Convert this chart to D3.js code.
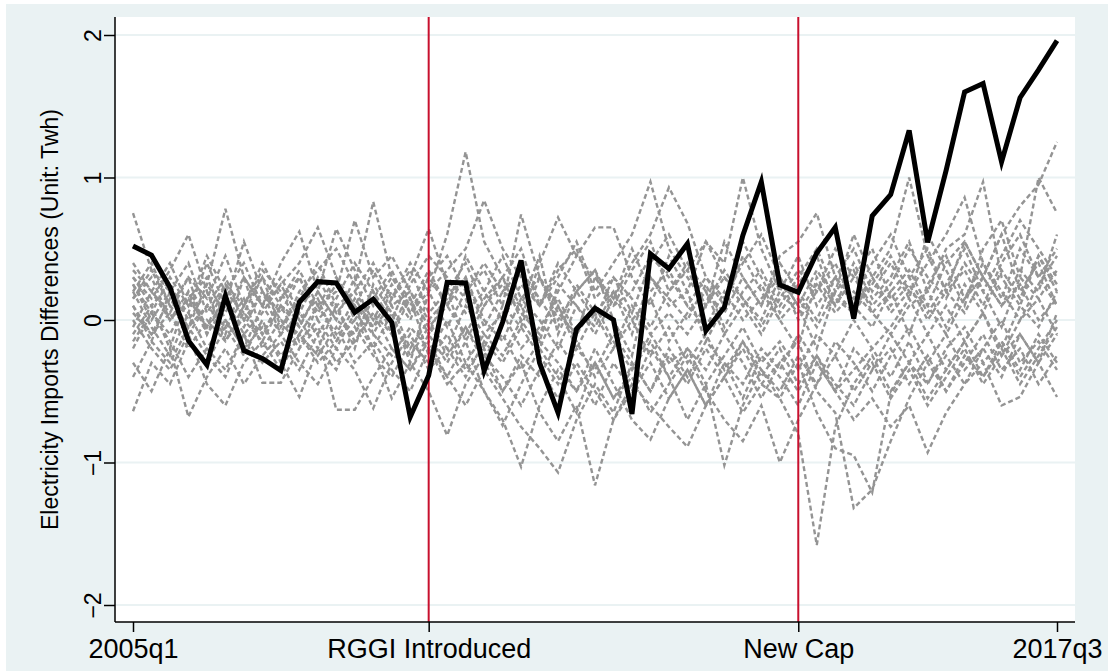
<!DOCTYPE html>
<html>
<head>
<meta charset="utf-8">
<script src="https://cdn.jsdelivr.net/npm/d3@7"></script>
<style>
  body { margin: 0; background: #fff; }
  text { font-family: "Liberation Sans", Arial, sans-serif; fill: #000; }
</style>
</head>
<body>
<div id="chart"></div>
<script>
// quarters 2005q1 .. 2017q3 (51 periods), index 0..50
var quarters = d3.range(51);
var eventIdx = [16, 36];            // 2009q1, 2014q1
var xTickIdx = [0, 16, 36, 50];
var xTickLabels = ["2005q1", "RGGI Introduced", "New Cap", "2017q3"];
var yTicks = [-2, -1, 0, 1, 2];

// treated unit
var treated = [
  0.52, 0.455, 0.23, -0.145, -0.315, 0.17, -0.215, -0.27, -0.355, 0.124,
  0.269, 0.26, 0.054, 0.147, -0.016, -0.68, -0.39, 0.265, 0.26, -0.357,
  -0.016, 0.418, -0.30, -0.65, -0.063, 0.082, 0.002, -0.66, 0.465, 0.36,
  0.535, -0.075, 0.09, 0.594, 0.97, 0.246, 0.195, 0.47, 0.65, 0.01,
  0.73, 0.88, 1.33, 0.545, 1.05, 1.6, 1.66, 1.11, 1.56, 1.755,
  1.96
];

// placebo units
var placebo01 = [0.75,0.35,0.1,0.3,-0.1, 0.2,0.05,0.3,-0.05,0.15, 0.4,0.1,-0.2,0.25,0.05, -0.3,0.2,0.6,1.18,0.55, 0.3,0.1,0.45,-0.1,0.2, 0.35,0.0,-0.25,0.3,0.1, 0.2,-0.15,0.1,0.45,0.2, 0.0,-0.2,0.3,0.1,0.4, 0.15,0.3,0.55,0.2,0.5, 0.6,0.97,0.3,0.1,0.45, 0.2];
var placebo02 = [0.3,0.15,0.35,0.6,0.2, -0.1,0.3,0.1,0.4,0.62, 0.2,0.0,0.3,-0.1,0.15, 0.35,0.05,0.2,-0.15,0.1, 0.3,0.5,0.1,0.3,0.55, 0.2,0.4,0.6,0.97,0.5, 0.3,0.1,0.35,0.15,0.0, 0.3,0.1,-0.2,0.2,0.35, 0.05,0.2,-0.1,0.25,0.45, 0.15,0.3,0.6,0.2,0.4, 0.1];
var placebo03 = [0.2,0.4,0.1,-0.05,0.25, 0.78,0.3,0.1,-0.1,0.2, 0.35,0.5,0.25,0.83,0.3, 0.1,0.35,0.1,0.45,0.2, 0.0,0.25,0.1,0.35,0.5, 0.15,0.3,0.05,0.4,0.6, 0.35,0.55,0.4,1.0,0.5, 0.2,0.45,0.1,0.3,0.15, 0.4,0.6,0.3,0.5,0.2, 0.35,0.1,0.4,0.6,0.3, 0.5];
var placebo04 = [0.1,-0.15,0.2,0.05,0.4, 0.1,0.55,0.2,0.0,-0.2, 0.1,0.3,0.0,0.2,-0.1, 0.25,0.45,0.3,0.15,-0.2, 0.1,-0.05,0.3,0.1,-0.2, 0.05,0.2,-0.1,0.3,0.15, 0.0,0.25,-0.05,0.2,0.35, 0.1,0.3,0.5,0.2,0.6, 0.3,0.5,1.0,0.45,0.2, 0.55,0.3,0.1,0.35,0.2, 0.6];
var placebo05 = [0.25,0.05,-0.1,0.15,0.3, 0.0,-0.2,0.1,0.25,0.4, 0.65,0.3,0.1,-0.05,0.2, 0.0,0.3,0.45,0.2,0.35, 0.1,0.74,0.3,0.05,-0.1, 0.3,0.1,0.35,0.55,0.2, 0.4,0.2,0.05,0.3,0.1, 0.4,0.2,0.0,0.3,0.5, 0.2,0.4,0.15,0.6,0.35, 0.1,0.5,0.7,0.3,1.0, 0.75];
var placebo06 = [0.35,0.2,0.05,0.3,0.15, 0.45,0.1,0.35,0.2,-0.05, 0.2,0.64,0.35,0.1,0.3, 0.15,-0.1,0.2,0.4,0.1, 0.25,0.05,-0.1,0.2,0.45, 0.65,0.65,0.3,0.1,0.45, 0.2,0.55,0.3,0.1,-0.1, 0.15,0.35,0.2,0.5,0.3, 0.1,0.25,0.5,0.3,0.15, 0.4,0.2,0.45,0.7,0.5, 0.3];
var placebo07 = [-0.05,0.2,0.4,0.1,0.25, 0.05,0.3,-0.1,0.15,0.35, 0.1,0.2,0.7,0.3,0.45, 0.2,0.0,0.15,0.3,-0.05, 0.2,0.1,-0.15,0.25,0.1, -0.1,0.15,0.4,0.6,0.93, 0.68,0.3,0.1,0.55,0.3, 0.05,0.25,0.45,0.1,0.3, 0.5,0.15,0.3,0.05,0.25, 0.5,0.2,-0.05,0.3,0.15, 0.35];
var placebo08 = [0.15,0.3,0.0,0.2,-0.1, 0.1,-0.05,0.2,0.05,0.3, 0.0,0.15,0.4,0.2,0.0, 0.3,0.64,0.25,0.05,0.2, 0.45,0.15,0.3,0.0,0.2, 0.35,0.1,0.2,0.45,0.3, 0.1,-0.05,0.2,0.0,0.15, 0.3,0.0,0.2,0.4,0.1, 0.3,0.05,0.2,0.4,0.6, 0.86,0.4,0.15,0.5,0.3, 0.1];
var placebo09 = [0.05,-0.1,0.15,-0.05,0.1, 0.3,0.0,-0.15,0.1,-0.05, 0.2,0.0,-0.1,0.15,0.35, 0.05,0.2,0.35,0.5,0.84, 0.5,0.3,0.1,0.4,0.2, 0.0,0.3,0.15,-0.05,0.2, 0.35,0.1,0.55,0.3,0.1, 0.45,0.55,0.75,0.3,0.1, -0.05,0.2,0.35,0.1,-0.1, 0.15,0.4,0.2,0.0,0.25, 0.45];
var placebo10 = [0.3,0.1,0.25,0.0,0.2, -0.15,0.1,0.3,0.1,0.0, -0.2,0.1,0.2,0.0,0.25, 0.05,0.3,0.1,-0.1,0.15, 0.3,0.0,0.4,0.72,0.45, 0.3,0.15,0.5,0.2,0.35, 0.1,0.3,0.15,0.4,0.6, 0.3,0.1,0.35,0.15,0.05, 0.25,0.45,0.2,0.1,0.4, 0.55,0.3,0.6,0.8,0.95, 1.25];
var placebo11 = [-0.64,-0.3,-0.45,-0.15,-0.3, -0.05,-0.25,0.0,-0.3,-0.54, -0.2,-0.35,-0.05,-0.25,-0.4, -0.15,-0.3,-0.1,-0.35,-0.2, -0.5,-0.25,-0.4,-0.15,-0.35, -0.6,-0.3,-0.5,-0.2,-0.4, -0.7,-0.45,-1.02,-0.6,-0.35, -0.5,-0.25,-0.45,-0.15,-0.3, -0.5,-0.25,-0.05,-0.3,-0.1, -0.35,-0.2,0.0,-0.3,-0.15, -0.35];
var placebo12 = [-0.3,-0.5,-0.2,-0.68,-0.4, -0.2,-0.45,-0.25,-0.1,-0.3, -0.45,-0.2,-0.35,-0.62,-0.3, -0.1,-0.35,-0.2,-0.4,-0.15, -0.3,-0.05,-0.25,-0.45,-0.2, -0.35,-0.1,-0.3,-0.5,-0.2, -0.4,-0.15,-0.3,-0.55,-0.25, -0.4,-0.6,-0.3,-0.5,-0.2, -0.35,-0.1,-0.3,-0.45,-0.2, -0.05,-0.3,-0.15,-0.4,-0.2, 0.0];
var placebo13 = [0.0,-0.2,-0.35,-0.1,-0.45, -0.6,-0.3,-0.15,-0.35,-0.1, -0.25,-0.05,-0.3,-0.15,-0.35, -0.5,-0.2,-0.4,-0.15,-0.5, -0.74,-0.45,-0.2,-0.4,-0.65, -0.3,-0.55,-0.35,-0.1,-0.3, -0.2,-0.45,-0.25,-0.05,-0.3, -0.15,-0.35,-0.1,-0.25,0.0, -0.2,-0.05,0.15,-0.1,0.1, -0.15,0.05,-0.25,0.0,0.15, -0.1];
var placebo14 = [0.2,-0.05,-0.25,0.05,-0.2, -0.35,-0.1,-0.44,-0.44,-0.2, -0.05,-0.3,-0.15,0.05,-0.2, -0.35,-0.15,-0.4,-0.6,-0.35, -0.55,-0.75,-0.9,-1.07,-0.7, -0.45,-0.65,-0.3,-0.5,-0.25, -0.45,-0.2,-0.4,-0.15,-0.35, -0.55,-0.3,-0.65,-0.9,-0.95, -1.21,-0.52,-0.3,-0.1,-0.35, -0.15,0.05,-0.2,0.1,-0.05, 0.2];
var placebo15 = [-0.4,-0.15,-0.3,-0.05,-0.25, -0.4,-0.1,-0.3,-0.15,-0.35, -0.1,-0.63,-0.63,-0.4,-0.2, -0.35,-0.1,-0.3,-0.05,-0.25, -0.1,-0.35,-0.15,-0.3,-0.5, -0.2,-0.45,-0.7,-0.84,-0.55, -0.35,-0.6,-0.3,-0.45,-0.2, -0.35,-0.1,-0.3,-0.5,-0.35, -0.2,-0.4,-0.15,-0.44,-0.25, -0.45,-0.3,-0.6,-0.54,-0.3, -0.54];
var placebo16 = [-0.2,0.05,-0.15,-0.4,-0.2, 0.0,-0.2,-0.05,-0.25,-0.1, -0.3,-0.15,0.0,-0.2,-0.55, -0.3,-0.5,-0.81,-0.45,-0.25, -0.4,-0.6,-0.35,-0.55,-0.3, -0.5,-0.7,-0.45,-0.6,-0.75, -0.89,-0.6,-0.4,-0.65,-0.45, -0.3,-0.5,-0.25,-0.45,-0.6, -0.35,-0.2,-0.45,-0.25,-0.5, -0.3,-0.1,-0.35,-0.2,-0.45, -0.25];
var placebo17 = [0.1,-0.1,0.05,-0.2,0.0, -0.15,0.05,-0.1,0.1,-0.15, 0.0,-0.2,0.05,-0.1,-0.25, -0.05,-0.2,-0.45,-0.3,-0.5, -0.7,-1.03,-0.6,-0.35,-0.5, -0.3,-0.55,-0.4,-0.65,-0.45, -0.25,-0.5,-0.7,-0.85,-0.6, -1.0,-0.7,-0.45,-0.25,-0.5, -0.3,-0.55,-0.35,-0.6,-0.4, -0.2,-0.45,-0.25,-0.1,-0.3, -0.1];
var placebo18 = [0.25,0.0,0.2,-0.1,0.1, -0.05,0.15,-0.2,0.0,-0.1, 0.1,-0.1,0.15,-0.05,0.1, -0.2,0.0,-0.25,-0.05,-0.3, -0.5,-0.3,-0.65,-0.85,-0.6, -1.16,-0.7,-0.5,-0.3,-0.55, -0.35,-0.6,-0.4,-0.2,-0.45, -0.55,-0.8,-1.58,-0.75,-0.45, -0.25,-0.5,-0.3,-0.55,-0.35, -0.15,-0.4,-0.2,-0.45,-0.25, -0.05];
var placebo19 = [-0.1,0.1,-0.2,0.2,-0.05, 0.15,-0.1,0.05,0.25,0.0, 0.15,-0.15,0.1,-0.2,0.05, -0.25,-0.05,-0.2,0.1,-0.1, 0.05,-0.2,-0.05,0.15,-0.1, 0.1,-0.15,-0.35,-0.15,-0.4, -0.2,-0.35,-0.1,-0.3,-0.55, -0.3,-0.15,-0.5,-0.65,-1.32, -1.19,-0.85,-0.55,-0.3,-0.5, -0.25,-0.4,-0.15,-0.35,-0.1, -0.3];
var placebo20 = [0.4,0.2,0.0,0.15,-0.05, 0.25,0.0,0.2,-0.1,0.05, -0.1,0.1,-0.15,0.05,-0.1, 0.15,-0.25,0.0,-0.3,-0.1, -0.25,0.0,-0.2,0.1,-0.15, -0.4,-0.2,0.0,-0.25,-0.05, -0.3,-0.1,-0.35,-0.15,-0.4, -0.2,-0.45,-0.25,-0.5,-0.7, -0.55,-0.75,-0.6,-0.93,-0.65, -0.45,-0.2,-0.4,-0.1,-0.3, 0.05];
var placebo21 = [0.15,0.35,0.2,0.4,0.05, 0.25,0.1,0.4,0.15,0.3, 0.05,0.25,0.1,0.35,0.1, 0.2,-0.05,0.1,0.3,0.0, -0.15,0.15,0.0,-0.2,0.1, -0.05,0.2,0.0,0.15,-0.15, 0.05,0.2,-0.1,0.1,0.25, 0.0,0.15,-0.05,0.2,0.05, 0.3,0.1,0.25,0.0,0.2, 0.05,0.3,0.1,0.25,0.0, 0.15];
var placebo22 = [-0.15,0.05,0.3,0.1,0.45, 0.2,0.4,0.1,0.3,0.05, 0.3,0.05,0.2,0.4,0.15, 0.4,0.2,-0.05,0.2,0.4, 0.2,0.35,0.15,-0.05,0.25, 0.05,-0.2,0.1,-0.1,0.05, -0.1,0.1,0.3,0.15,-0.05, 0.2,0.05,0.25,0.05,0.2, 0.05,-0.1,0.1,0.2,-0.05, 0.25,0.05,0.35,0.15,0.45, 0.25];

var placebos = [placebo01, placebo02, placebo03, placebo04, placebo05, placebo06,
  placebo07, placebo08, placebo09, placebo10, placebo11, placebo12, placebo13,
  placebo14, placebo15, placebo16, placebo17, placebo18, placebo19, placebo20,
  placebo21, placebo22];

var W = 1108, H = 671;
var plot = {left: 115, right: 1075, top: 17, bottom: 622};

var svg = d3.select("#chart").append("svg")
    .attr("width", W)
    .attr("height", H);

// outer graph region
svg.append("rect")
    .attr("x", 6).attr("y", 4)
    .attr("width", W - 6).attr("height", H - 4)
    .attr("fill", "#eaf2f3");

svg.append("rect")
    .attr("x", plot.left).attr("y", plot.top)
    .attr("width", plot.right - plot.left)
    .attr("height", plot.bottom - plot.top)
    .attr("fill", "#fff");

var x = d3.scaleLinear().domain([0, 50]).range([133, 1057]);
var y = d3.scaleLinear().domain([-2, 2]).range([605, 35]);

// gridlines
svg.append("g").selectAll("line")
    .data(yTicks)
    .enter().append("line")
    .attr("x1", plot.left).attr("x2", plot.right)
    .attr("y1", function (d) { return y(d); })
    .attr("y2", function (d) { return y(d); })
    .attr("stroke", "#eaf2f3")
    .attr("stroke-width", 2);

var line = d3.line()
    .x(function (d, i) { return x(quarters[i]); })
    .y(function (d) { return y(d); });

svg.append("g").selectAll("path")
    .data(placebos)
    .enter().append("path")
    .attr("d", line)
    .attr("fill", "none")
    .attr("stroke", "#949494")
    .attr("stroke-width", 2.4)
    .attr("stroke-dasharray", "5,3");

// event lines
svg.append("g").selectAll("line")
    .data(eventIdx)
    .enter().append("line")
    .attr("x1", function (d) { return x(d); })
    .attr("x2", function (d) { return x(d); })
    .attr("y1", plot.top).attr("y2", plot.bottom)
    .attr("stroke", "#c8102e")
    .attr("stroke-width", 2);

svg.append("path")
    .datum(treated)
    .attr("d", line)
    .attr("fill", "none")
    .attr("stroke", "#000")
    .attr("stroke-width", 5)
    .attr("stroke-linejoin", "miter");

// y axis
var yAxis = svg.append("g")
    .attr("transform", "translate(" + plot.left + ",0)")
    .call(d3.axisLeft(y).tickValues(yTicks).tickSize(11).tickPadding(4).tickFormat(d3.format("d")));
yAxis.select(".domain").attr("d", "M0," + plot.top + "V" + plot.bottom).attr("stroke-width", 1.5);
yAxis.selectAll(".tick line").attr("stroke-width", 1.5);
yAxis.selectAll(".tick text")
    .attr("x", null).attr("dy", null)
    .attr("text-anchor", "middle")
    .attr("transform", "translate(-14,0) rotate(-90)")
    .style("font-size", "23px");

// x axis
var xAxis = svg.append("g")
    .attr("transform", "translate(0," + plot.bottom + ")")
    .call(d3.axisBottom(x).tickValues(xTickIdx).tickSize(10).tickPadding(7)
        .tickFormat(function (d) { return xTickLabels[xTickIdx.indexOf(d)]; }));
xAxis.select(".domain").attr("d", "M" + plot.left + ",0H" + plot.right).attr("stroke-width", 1.5);
xAxis.selectAll(".tick line").attr("stroke-width", 1.5);
xAxis.selectAll(".tick text").style("font-size", "27px");

svg.append("text")
    .attr("transform", "translate(58," + ((plot.top + plot.bottom) / 2) + ") rotate(-90)")
    .attr("text-anchor", "middle")
    .style("font-size", "23px")
    .text("Electricity Imports Differences (Unit: Twh)");
</script>
</body>
</html>
